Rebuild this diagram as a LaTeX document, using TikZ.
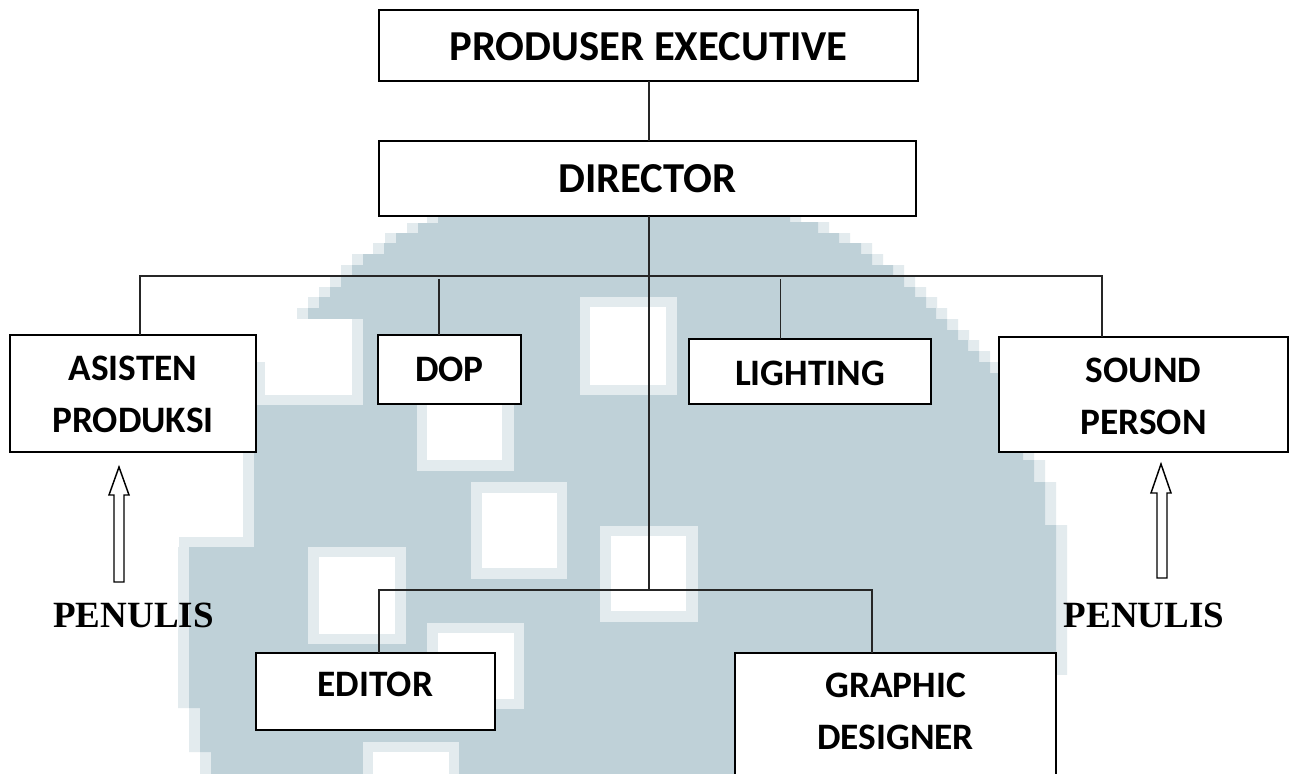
\documentclass[tikz,border=0pt]{standalone}
\usepackage{fontspec}
\setmainfont{Carlito}
\newfontfamily\serifbold{Liberation Serif}
\definecolor{blob}{HTML}{BFD1D8}
\definecolor{halo}{HTML}{E3EBEE}
\newcommand{\softsq}[8]{%
  \fill[halo] (#1,#3) rectangle (#2,#4);
  \fill[white] (#5,#7) rectangle (#6,#8);}
\newcommand{\lbl}[2]{\raisebox{#1pt}[0pt][0pt]{\begin{tabular}[c]{@{}c@{}}#2\end{tabular}}}
\newcommand{\blobpath}{(438,210) -- (438,223) -- (418,223) -- (418,233) -- (396,233) -- (396,243) -- (384,243) -- (384,254) -- (363,254) -- (363,265) -- (352,265) -- (352,276) -- (341,276) -- (341,287) -- (330,287) -- (330,297) -- (319,297) -- (319,308) -- (308,308) -- (308,319)
  -- (363,319) -- (363,405) -- (254,405) -- (254,547) -- (189,547) -- (189,708) -- (200,708) -- (200,752) -- (211,752) -- (211,774)
  -- (1056,774) -- (1056,525) -- (1045,525) -- (1045,482) -- (1034,482) -- (1034,460) -- (1023,460) -- (1023,440) -- (1001,440) -- (1001,373) -- (990,373) -- (990,362) -- (979,362) -- (979,351) -- (968,351) -- (968,340) -- (958,340) -- (958,330) -- (947,330) -- (947,319) -- (936,319) -- (936,308) -- (926,308) -- (926,297) -- (915,297) -- (915,287) -- (904,287) -- (904,276) -- (893,276) -- (893,265) -- (872,265) -- (872,254) -- (861,254) -- (861,243) -- (839,243) -- (839,233) -- (818,233) -- (818,222) -- (790,222) -- (790,210) -- cycle}
\tikzset{
  boxbase/.style={draw=black,fill=white,line width=1.1pt,inner sep=0pt,outer sep=0pt},
  boxn/.style={boxbase,font=\bfseries\fontsize{28}{39}\selectfont},
  boxbig/.style={boxbase,font=\bfseries\fontsize{32}{39}\selectfont},
  wh/.style 2 args={minimum width=#1*0.75pt,minimum height=#2*0.75pt},
  conn/.style={draw=black!85,line width=1.1pt},
  blockarrow/.style={draw=black,fill=white,line width=1.1pt,line join=miter},
  penulis/.style={inner sep=0pt,outer sep=0pt,anchor=base,font=\serifbold\bfseries\fontsize{27.75}{33}\selectfont}
}
\begin{document}
\begin{tikzpicture}[x=0.75pt,y=-0.75pt]
\clip (0,0) rectangle (1289,774);
\fill[white] (0,0) rectangle (1289,774);
% watermark: pale fringe (blob shifted left and right), then the blob
\begin{scope}[xshift=-8.25pt]\fill[halo] \blobpath;\end{scope}
\begin{scope}[xshift=8.25pt]\fill[halo] \blobpath;\end{scope}
\fill[white] (1056,675) rectangle (1075,774);
\fill[halo] (179,537) rectangle (254,547);
\fill[blob] \blobpath;
% notch at the upper left
\fill[halo] (257,362) rectangle (363,405);
\fill[halo] (352,319) rectangle (363,405);
\fill[white] (243,319) rectangle (352,362);
\fill[white] (265,362) rectangle (352,395);
\softsq{580}{677}{297}{395}{590}{666}{307}{385}
\softsq{417}{514}{375}{471}{427}{502}{385}{460}
\softsq{471}{567}{482}{579}{482}{557}{493}{568}
\softsq{308}{406}{547}{644}{319}{395}{557}{634}
\softsq{427}{524}{623}{709}{438}{514}{633}{699}
\softsq{600}{698}{526}{622}{611}{686}{536}{611}
\softsq{363}{459}{742}{790}{373}{449}{752}{790}
% boxes
\node[boxbig,wh={539}{71}] (prod) at (648.5,45.5) {\lbl{-9.75}{PRODUSER EXECUTIVE}};
\node[boxbig,wh={537}{75}] (dir) at (647.5,178.5) {\lbl{-9}{DIRECTOR}};
\node[boxn,wh={246}{117}] (asisten) at (133,393.5) {\lbl{-8.25}{ASISTEN\\PRODUKSI}};
\node[boxn,wh={143}{69}] (dop) at (449.5,369.5) {\lbl{-7.5}{DOP}};
\node[boxn,wh={242}{65}] (light) at (810,371.5) {\lbl{-9}{LIGHTING}};
\node[boxn,wh={289}{115}] (sound) at (1143.5,394.5) {\lbl{-9}{SOUND\\PERSON}};
\node[boxn,wh={239}{77}] (editor) at (375.5,691.5) {\lbl{-2.25}{EDITOR}};
\node[boxn,wh={321}{137}] (graphic) at (895.5,721.5) {\lbl{0}{GRAPHIC\\DESIGNER}};
% connectors
\coordinate (busL) at (140,276);
\coordinate (busR) at (1102,276);
\coordinate (dopT) at (439,279);
\coordinate (lightT) at (780.5,279);
\coordinate (low) at (649,590);
\coordinate (lowL) at (379,590);
\coordinate (lowR) at (872,590);
\draw[conn] (prod.south -| low) -- (dir.north -| low);
\draw[conn] (dir.south -| low) -- (low);
\draw[conn] (asisten.north -| busL) -- (busL) -- (busR) -- (sound.north -| busR);
\draw[conn] (dopT) -- (dopT |- dop.north);
\draw[conn] (lightT) -- (lightT |- light.north);
\draw[conn] (editor.north -| lowL) -- (lowL) -- (lowR) -- (graphic.north -| lowR);
% block arrows
\draw[blockarrow] (119,467) -- (129,495) -- (124,495) -- (124,582) -- (114,582) -- (114,495) -- (109,495) -- cycle;
\draw[blockarrow] (1161,464) -- (1171,493) -- (1167,493) -- (1167,578) -- (1157,578) -- (1157,493) -- (1151,493) -- cycle;
% labels
\node[penulis] (pen1) at (133.5,627) {PENULIS};
\node[penulis] (pen2) at (1144,627) {PENULIS};
\end{tikzpicture}
\end{document}
